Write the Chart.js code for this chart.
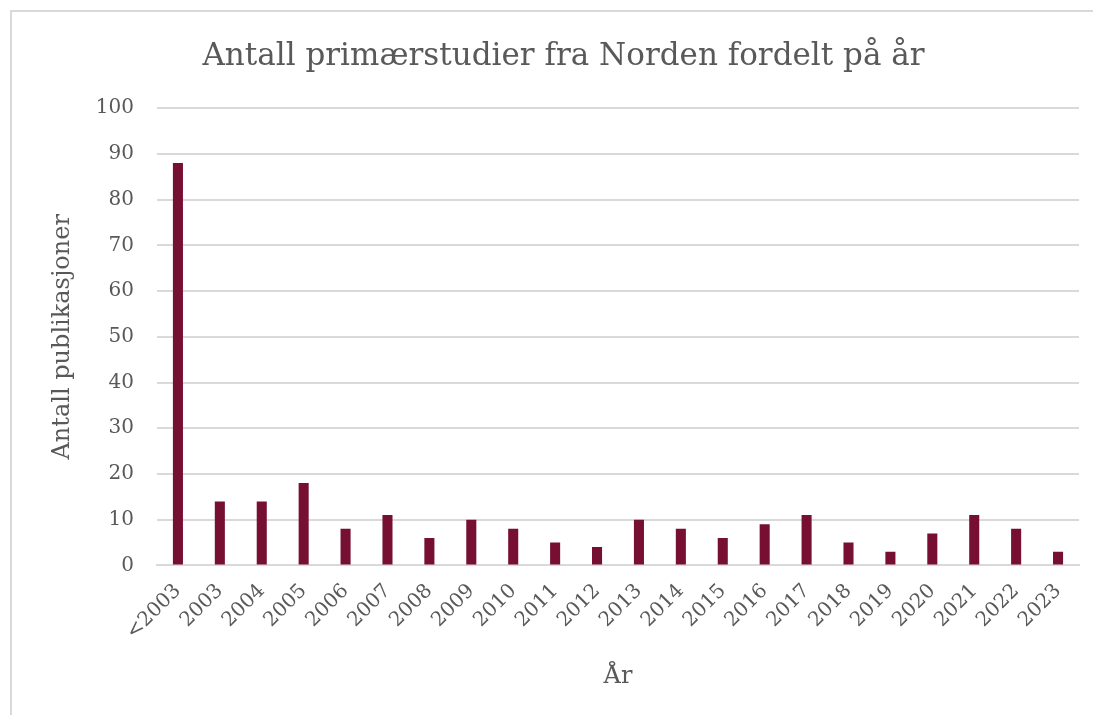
<!DOCTYPE html>
<html>
<head>
<meta charset="utf-8">
<script src="https://cdn.jsdelivr.net/npm/chart.js@4"></script>
<style>
  body { margin: 0; background: #fff; overflow: hidden; }
  #frame { position: absolute; left: 10px; top: 10px; width: 1100px; height: 720px;
           border-top: 2px solid #d9d9d9; border-left: 2px solid #d9d9d9; }
  #wrap { position: absolute; left: 0; top: 0; width: 1081px; height: 703px; }
</style>
</head>
<body>
<div id="frame"><div id="wrap"><canvas id="chart"></canvas></div></div>
<script>
// data
const years = ["<2003","2003","2004","2005","2006","2007","2008","2009","2010","2011","2012",
               "2013","2014","2015","2016","2017","2018","2019","2020","2021","2022","2023"];
const counts = [88,14,14,18,8,11,6,10,8,5,4,10,8,6,9,11,5,3,7,11,8,3];

const serif = "'DejaVu Serif', serif";
const grey = '#595959';

new Chart(document.getElementById('chart'), {
    type: 'bar',
    data: {
        labels: years,
        datasets: [{ label: 'Antall', data: counts, backgroundColor: '#760f32',
                     barPercentage: 0.24, categoryPercentage: 1 }]
    },
    options: {
        responsive: true,
        maintainAspectRatio: false,
        animation: false,
        layout: { padding: { left: 36, right: 14, top: 12, bottom: 20 } },
        plugins: {
            legend: { display: false },
            tooltip: { enabled: false },
            title: {
                display: true,
                text: 'Antall primærstudier fra Norden fordelt på år',
                color: grey,
                font: { family: serif, size: 31, weight: 'normal' },
                padding: { top: 14, bottom: 33 }
            }
        },
        scales: {
            x: {
                grid: { display: false },
                border: { color: '#d9d9d9', width: 2 },
                ticks: { color: grey, font: { family: serif, size: 20 }, minRotation: 45, maxRotation: 45, padding: 6 },
                title: { display: true, text: 'År', color: grey,
                         font: { family: serif, size: 24 }, padding: { top: 12 } }
            },
            y: {
                min: 0, max: 100,
                ticks: { stepSize: 10, color: grey, font: { family: serif, size: 20 }, padding: 23 },
                grid: { color: '#d9d9d9', lineWidth: 2, drawTicks: false },
                border: { display: false },
                title: { display: true, text: 'Antall publikasjoner', color: grey,
                         font: { family: serif, size: 24 }, padding: { top: 0, bottom: -4 } }
            }
        }
    }
});
</script>
</body>
</html>
